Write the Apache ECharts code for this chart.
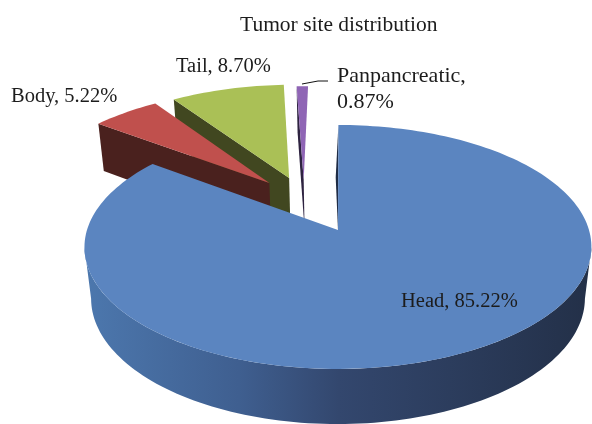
<!DOCTYPE html>
<html lang="en">
  <head>
    <meta charset="UTF-8" />
    <title>Tumor site distribution</title>
    <script src="https://cdn.jsdelivr.net/npm/echarts@6/dist/echarts.min.js"></script>
    <style>
      html, body { margin: 0; background: #fff; }
      #chart { width: 592px; height: 424px; }
    </style>
  </head>
  <body>
    <div id="chart"></div>
    <script>
      const categories = ["Head", "Body", "Tail", "Panpancreatic"];
      const percents = [85.22, 5.22, 8.7, 0.87];

      // look of each slice
      const topColors = ["#5B85C0", "#C0504D", "#AAC056", "#8F65B5"];
      const wallColors = ["#1F2C45", "#4A211E", "#414720", "#2E2340"];
      // how far each slice is pulled out, in pie radius units
      const offsets = [[-0.014, 0], [-0.304, -0.4155], [-0.222, -0.462], [-0.16, -0.444]];
      const labelPos = [[401, 302], [11, 97], [176, 67], [337, 63]];
      const labelSize = [20.5, 20.5, 20.5, 22];
      const FONT = '"Liberation Serif", serif';

      // perspective of the pie plane
      const CX = 341.5, CY = 230, RX = 251, KY = 119.6, P = 0.139, Q = 0.026, H = 52.5;
      function project(u, v, z) {
        const w = 1 - P * v + Q * z;
        return [CX + (RX * u) / w, CY + (KY * v + H * z) / w];
      }

      const total = percents.reduce((a, b) => a + b, 0);
      const starts = [];
      percents.reduce((sum, p, i) => {
        starts[i] = (sum / total) * 360;
        return sum + p;
      }, 0);

      function rimPoint(i, deg, z) {
        const r = (deg * Math.PI) / 180;
        return project(offsets[i][0] + Math.sin(r), offsets[i][1] - Math.cos(r), z);
      }
      function rimPoints(i, from, to, z) {
        const pts = [];
        const n = Math.max(2, Math.ceil((to - from) / 1.5));
        for (let k = 0; k <= n; k++) pts.push(rimPoint(i, from + ((to - from) * k) / n, z));
        return pts;
      }

      const headWall = new echarts.graphic.LinearGradient(
        88, 0, 590, 0,
        [
          { offset: 0, color: "#4C77AD" },
          { offset: 0.3, color: "#3F5F90" },
          { offset: 0.5, color: "#33476E" },
          { offset: 1, color: "#233048" },
        ],
        true
      );

      function renderSlice(params, api) {
        const i = api.value(0);
        const pct = api.value(1);
        const from = starts[i];
        const to = from + (pct / total) * 360;
        const apex = project(offsets[i][0], offsets[i][1], 0);
        const apexLow = project(offsets[i][0], offsets[i][1], 1);
        const children = [];

        if (i === 0) {
          // outer wall, only the part that faces the viewer (silhouette to silhouette)
          const side = (Math.acos(-P) * 180) / Math.PI;
          const upper = rimPoints(i, side, 360 - side, 0);
          const lower = rimPoints(i, side, 360 - side, 1).reverse();
          children.push({ type: "polygon", shape: { points: upper.concat(lower) }, style: { fill: headWall } });
          // dark sliver beside the cut
          const rim = rimPoint(i, from, 0);
          const mid = [(rim[0] + apex[0]) / 2 - 2.5, (rim[1] + apex[1]) / 2];
          children.push({ type: "polygon", shape: { points: [rim, mid, apex] }, style: { fill: wallColors[0] } });
        } else {
          // side wall along the first edge
          const a = rimPoint(i, from, 0);
          const b = rimPoint(i, from, 1);
          children.push({ type: "polygon", shape: { points: [a, apex, apexLow, b] }, style: { fill: wallColors[i] } });
        }

        children.push({
          type: "polygon",
          shape: { points: [apex].concat(rimPoints(i, from, to, 0)) },
          style: { fill: topColors[i] },
        });

        const text =
          i === 3
            ? categories[i] + ",\n" + pct.toFixed(2) + "%"
            : categories[i] + ", " + pct.toFixed(2) + "%";
        children.push({
          type: "text",
          z2: 10,
          style: {
            x: labelPos[i][0],
            y: labelPos[i][1],
            text: text,
            fill: "#1c1c1c",
            font: labelSize[i] + "px " + FONT,
            lineHeight: 26,
            verticalAlign: i === 3 ? "top" : "middle",
          },
        });
        if (i === 3) {
          children.push({
            type: "polyline",
            z2: 10,
            shape: { points: [[302, 84], [318, 81], [328, 81]] },
            style: { stroke: "#111", lineWidth: 1, fill: null },
          });
        }
        return { type: "group", children: children };
      }

      // back slices first so the big one sits on top
      const drawOrder = [3, 2, 1, 0];

      const chart = echarts.init(document.getElementById("chart"));
      chart.setOption({
        animation: false,
        backgroundColor: "#fff",
        title: {
          text: "Tumor site distribution",
          left: 235,
          top: 9,
          textStyle: { fontFamily: FONT, fontWeight: "normal", fontSize: 21.5, color: "#1c1c1c" },
        },
        series: [
          {
            type: "custom",
            coordinateSystem: "none",
            renderItem: renderSlice,
            data: drawOrder.map((i) => ({ name: categories[i], value: [i, percents[i]] })),
          },
        ],
      });
    </script>
  </body>
</html>
